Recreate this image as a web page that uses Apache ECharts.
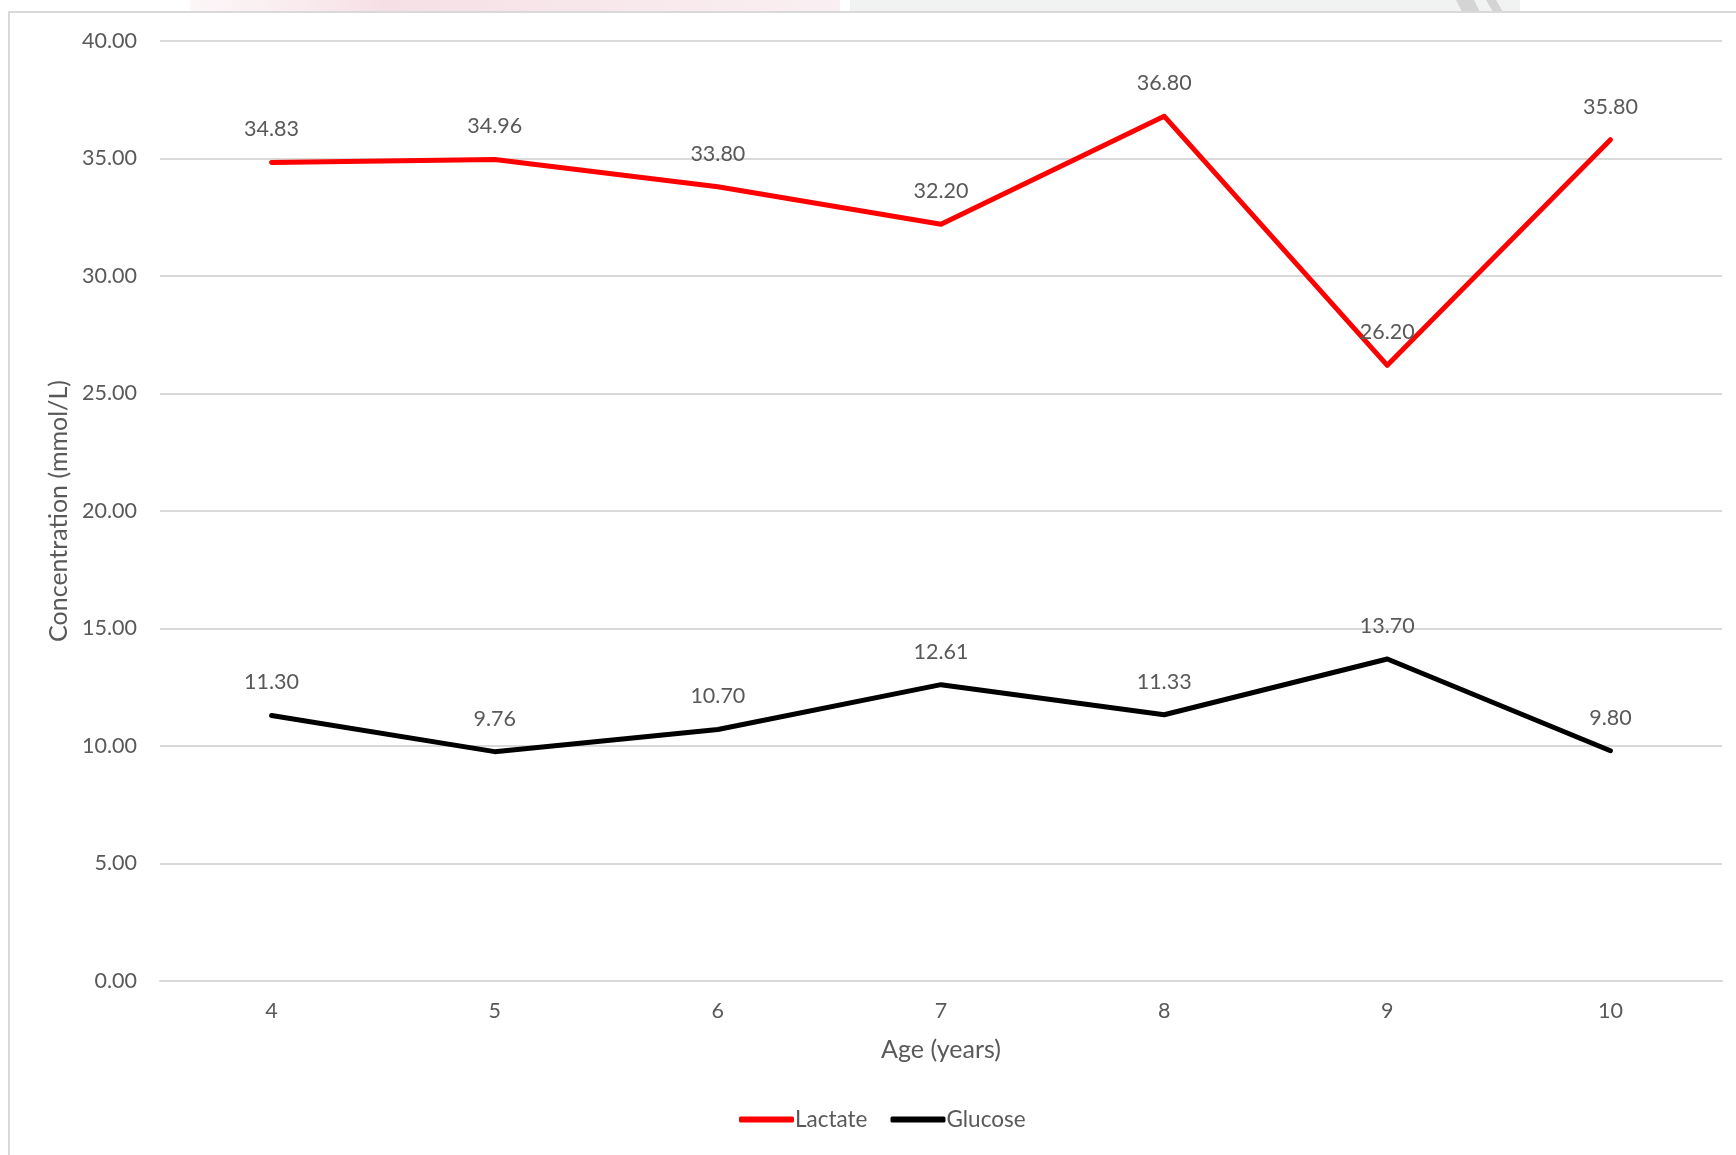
<!DOCTYPE html>
<html>
<head>
<meta charset="utf-8">
<title>Lactate and Glucose by Age</title>
<script src="https://cdn.jsdelivr.net/npm/echarts@6/dist/echarts.min.js"></script>
<style>
  html, body { margin: 0; padding: 0; background: #ffffff; }
  #chart { width: 1736px; height: 1155px; }
</style>
</head>
<body>
<div id="chart"></div>
<script>
// Age groups (years)
const ages = ['4', '5', '6', '7', '8', '9', '10'];
// Mean concentrations (mmol/L)
const lactate = [34.83, 34.96, 33.80, 32.20, 36.80, 26.20, 35.80];
const glucose = [11.30, 9.76, 10.70, 12.61, 11.33, 13.70, 9.80];

const FONT = 'Lato, "Open Sans", sans-serif';
const TEXT = '#595959';
const GRID = '#d9d9d9';

const chart = echarts.init(document.getElementById('chart'), null, { renderer: 'canvas' });

function labelOpts() {
  return {
    show: true,
    position: 'top',
    distance: 22,
    color: TEXT,
    fontFamily: FONT,
    fontSize: 21.5,
    formatter: p => p.value.toFixed(2)
  };
}

function lineSeries(name, data, color) {
  return {
    name: name,
    type: 'line',
    data: data,
    symbol: 'circle',
    symbolSize: 0,
    showSymbol: true,
    color: color,
    itemStyle: { color: color },
    lineStyle: { color: color, width: 5, cap: 'round', join: 'round' },
    label: labelOpts(),
    emphasis: { disabled: true },
    z: 3
  };
}

chart.setOption({
  backgroundColor: '#ffffff',
  animation: false,
  textStyle: { fontFamily: FONT },
  graphic: [
    // faint strip of the surrounding page above the chart frame
    { type: 'rect', shape: { x: 190, y: 0, width: 650, height: 12 },
      style: { fill: new echarts.graphic.LinearGradient(0, 0, 1, 0, [
        { offset: 0, color: 'rgba(247,228,232,0.3)' },
        { offset: 0.3, color: 'rgba(244,220,226,0.9)' },
        { offset: 1, color: 'rgba(247,232,236,0.7)' }]) }, z: -1 },
    { type: 'rect', shape: { x: 850, y: 0, width: 670, height: 12 },
      style: { fill: '#f1f2f2' }, z: -1 },
    { type: 'polygon', shape: { points: [[1456, 0], [1474, 0], [1480, 12], [1462, 12]] },
      style: { fill: '#d4d4d4' }, z: -1 },
    { type: 'polygon', shape: { points: [[1486, 0], [1496, 0], [1503, 12], [1493, 12]] },
      style: { fill: '#d4d4d4' }, z: -1 },
    // chart frame (left and top edges)
    { type: 'polyline', shape: { points: [[9, 1155], [9, 12], [1736, 12]] },
      style: { stroke: GRID, lineWidth: 2, fill: null }, z: 0 }
  ],
  grid: { left: 160, right: 14, top: 41, bottom: 174 },
  legend: {
    bottom: 19,
    left: 734,
    icon: 'roundRect',
    itemWidth: 55,
    itemHeight: 6,
    itemGap: 23,
    textStyle: { color: TEXT, fontFamily: FONT, fontSize: 22.5, padding: [0, 0, 0, -4] },
    data: ['Lactate', 'Glucose']
  },
  xAxis: {
    type: 'category',
    data: ages,
    boundaryGap: true,
    name: 'Age (years)',
    nameLocation: 'middle',
    nameGap: 69,
    nameTextStyle: { color: TEXT, fontFamily: FONT, fontSize: 25, verticalAlign: 'middle' },
    axisLine: { show: true, lineStyle: { color: GRID, width: 2 } },
    axisTick: { show: false },
    axisLabel: { color: TEXT, fontFamily: FONT, fontSize: 21.5, margin: 19 }
  },
  yAxis: {
    type: 'value',
    min: 0,
    max: 40,
    interval: 5,
    name: 'Concentration (mmol/L)',
    nameLocation: 'middle',
    nameGap: 101,
    nameTextStyle: { color: TEXT, fontFamily: FONT, fontSize: 25, verticalAlign: 'middle' },
    axisLine: { show: false },
    axisTick: { show: false },
    axisLabel: { color: TEXT, fontFamily: FONT, fontSize: 21.5, margin: 23,
      formatter: v => v.toFixed(2) },
    splitLine: { show: true, lineStyle: { color: GRID, width: 2 } }
  },
  series: [
    lineSeries('Lactate', lactate, '#ff0000'),
    lineSeries('Glucose', glucose, '#000000')
  ]
});
</script>
</body>
</html>
